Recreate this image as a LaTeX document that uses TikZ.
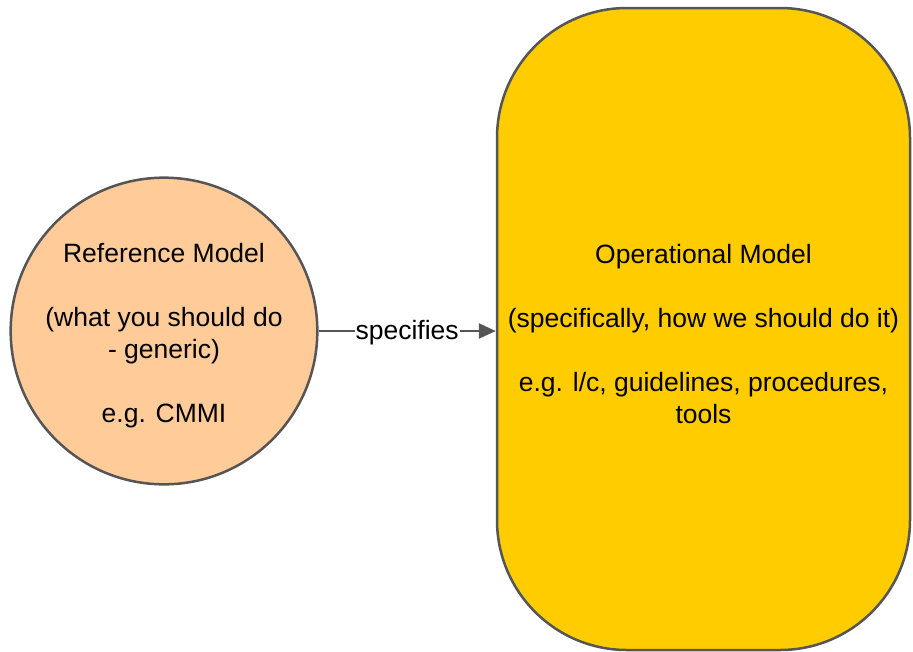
\documentclass[tikz,border=0pt]{standalone}
\usepackage{fontspec}
\setmainfont{Liberation Sans}
\usetikzlibrary{arrows.meta}
\definecolor{edgegray}{HTML}{555555}
\definecolor{peach}{HTML}{FFCC99}
\definecolor{amber}{HTML}{FFCC00}
% a strut that lowers the first line of a centred block a little
\newcommand{\firstlinestrut}{\rule{0pt}{29pt}}
\begin{document}
\begin{tikzpicture}[x=1pt,y=-1pt,
  every node/.style={font=\fontsize{26.5}{32}\selectfont, align=center},
  modelshape/.style={draw=edgegray, line width=2.5pt, inner sep=0pt},
  link/.style={draw=edgegray, line width=2.5pt, -{Triangle[length=17pt,width=15pt]}}]
  \useasboundingbox (0,0) rectangle (913,651);
  % reference model (circle)
  \node[modelshape, circle, fill=peach, minimum size=303pt] (ref) at (164,331)
    {\firstlinestrut Reference Model\\[32pt](what you should do\\- generic)\\[32pt]e.g. CMMI};
  % operational model (rounded box)
  \node[modelshape, rectangle, fill=amber, rounded corners=130pt,
        minimum width=413pt, minimum height=642pt] (op) at (703.5,329)
    {\firstlinestrut Operational Model\\[32pt](specifically, how we should do it)\\[32pt]e.g. l/c, guidelines, procedures,\\tools};
  % relation
  \draw[link] (ref.east) -- node[fill=white, inner sep=1pt, yshift=-2pt] (spec) {specifies} (ref.east -| op.west);
\end{tikzpicture}
\end{document}
